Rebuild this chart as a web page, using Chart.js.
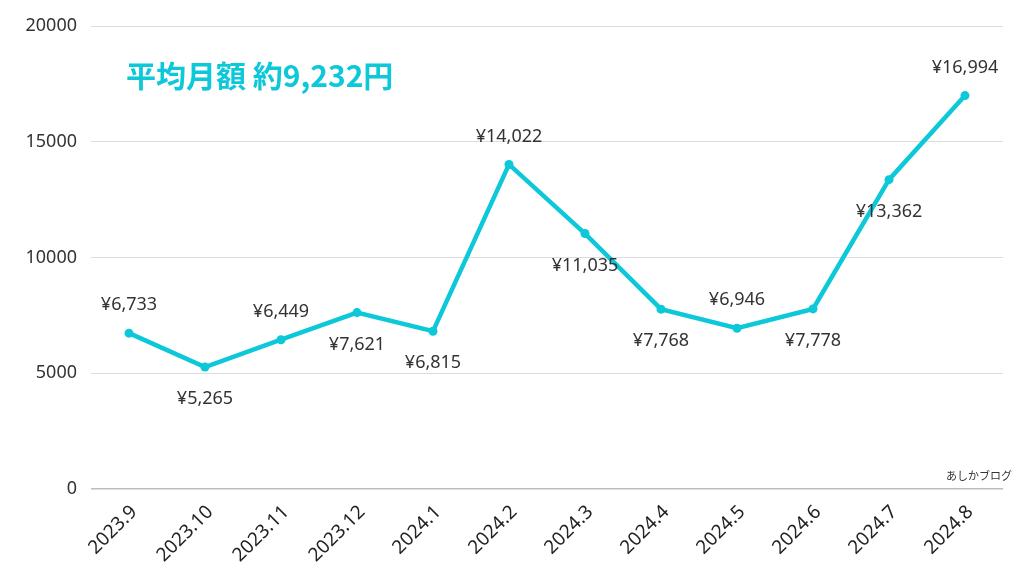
<!DOCTYPE html>
<html>
<head>
<meta charset="utf-8">
<script src="https://cdn.jsdelivr.net/npm/chart.js@4.4.1/dist/chart.umd.min.js"></script>
<style>
html,body{margin:0;padding:0;background:#fff;}
#wrap{width:1024px;height:576px;position:relative;}
</style>
</head>
<body>
<div id="wrap"><canvas id="c" width="1024" height="576"></canvas></div>
<script>
const categories = ["2023.9","2023.10","2023.11","2023.12","2024.1","2024.2","2024.3","2024.4","2024.5","2024.6","2024.7","2024.8"];
const monthlyCost = [6733,5265,6449,7621,6815,14022,11035,7768,6946,7778,13362,16994];
const labelSide = ["top","bottom","top","bottom","bottom","top","bottom","bottom","top","bottom","bottom","top"];
const yTicks = [0,5000,10000,15000,20000];
const titleText = "平均月額 約9,232円";
const watermark = "あしかブログ";

const CYAN = "#0cc8d8";
const FONT = "'Noto Sans', 'Noto Sans CJK JP', sans-serif";

const overlay = {
  id: "overlay",
  afterDatasetsDraw(chart) {
    const ctx = chart.ctx;
    const meta = chart.getDatasetMeta(0);
    ctx.save();
    ctx.font = "18px " + FONT;
    ctx.fillStyle = "#333";
    ctx.textAlign = "center";
    ctx.textBaseline = "middle";
    meta.data.forEach((pt, i) => {
      const v = monthlyCost[i];
      const txt = "¥" + v.toLocaleString("en-US");
      const dy = labelSide[i] === "top" ? -28 : 32;
      ctx.fillText(txt, pt.x, pt.y + dy);
    });
    const area = chart.chartArea;
    ctx.font = "bold 30px 'Noto Sans CJK JP', sans-serif";
    ctx.fillStyle = CYAN;
    ctx.textAlign = "left";
    ctx.fillText(titleText, area.left + 35, area.top + 50);
    ctx.font = "11px 'Noto Sans CJK JP', sans-serif";
    ctx.fillStyle = "#333";
    ctx.textAlign = "right";
    ctx.fillText(watermark, area.right + 9, area.bottom - 13);
    ctx.restore();
  }
};

new Chart(document.getElementById("c"), {
  type: "line",
  data: {
    labels: categories,
    datasets: [{
      data: monthlyCost,
      borderColor: CYAN,
      backgroundColor: CYAN,
      borderWidth: 4.5,
      pointRadius: 4.5,
      pointBackgroundColor: CYAN,
      pointBorderWidth: 0,
      tension: 0
    }]
  },
  options: {
    responsive: false,
    animation: false,
    devicePixelRatio: 1,
    layout: { padding: { top: 26, right: 21, left: 0, bottom: 0 } },
    plugins: { legend: { display: false }, tooltip: { enabled: false }, title: { display: false } },
    scales: {
      x: {
        offset: true,
        grid: { display: false, drawTicks: false },
        border: { display: false },
        ticks: {
          color: "#222",
          font: { family: FONT, size: 19 },
          minRotation: 45, maxRotation: 45,
          padding: 12,
          labelOffset: 5
        },
        afterFit(s) { s.height = 87; }
      },
      y: {
        min: 0, max: 20000,
        afterBuildTicks(s) { s.ticks = yTicks.map(v => ({ value: v })); },
        grid: {
          drawTicks: false,
          color: c => (c.tick && c.tick.value === 0) ? "#bdbdbd" : "#dcdcdc",
          lineWidth: c => (c.tick && c.tick.value === 0) ? 1.5 : 1
        },
        border: { display: false },
        ticks: {
          color: "#333",
          font: { family: FONT, size: 18 },
          padding: 14,
          callback: v => String(v)
        },
        afterFit(s) { s.width = 91; }
      }
    }
  },
  plugins: [overlay]
});
</script>
</body>
</html>
